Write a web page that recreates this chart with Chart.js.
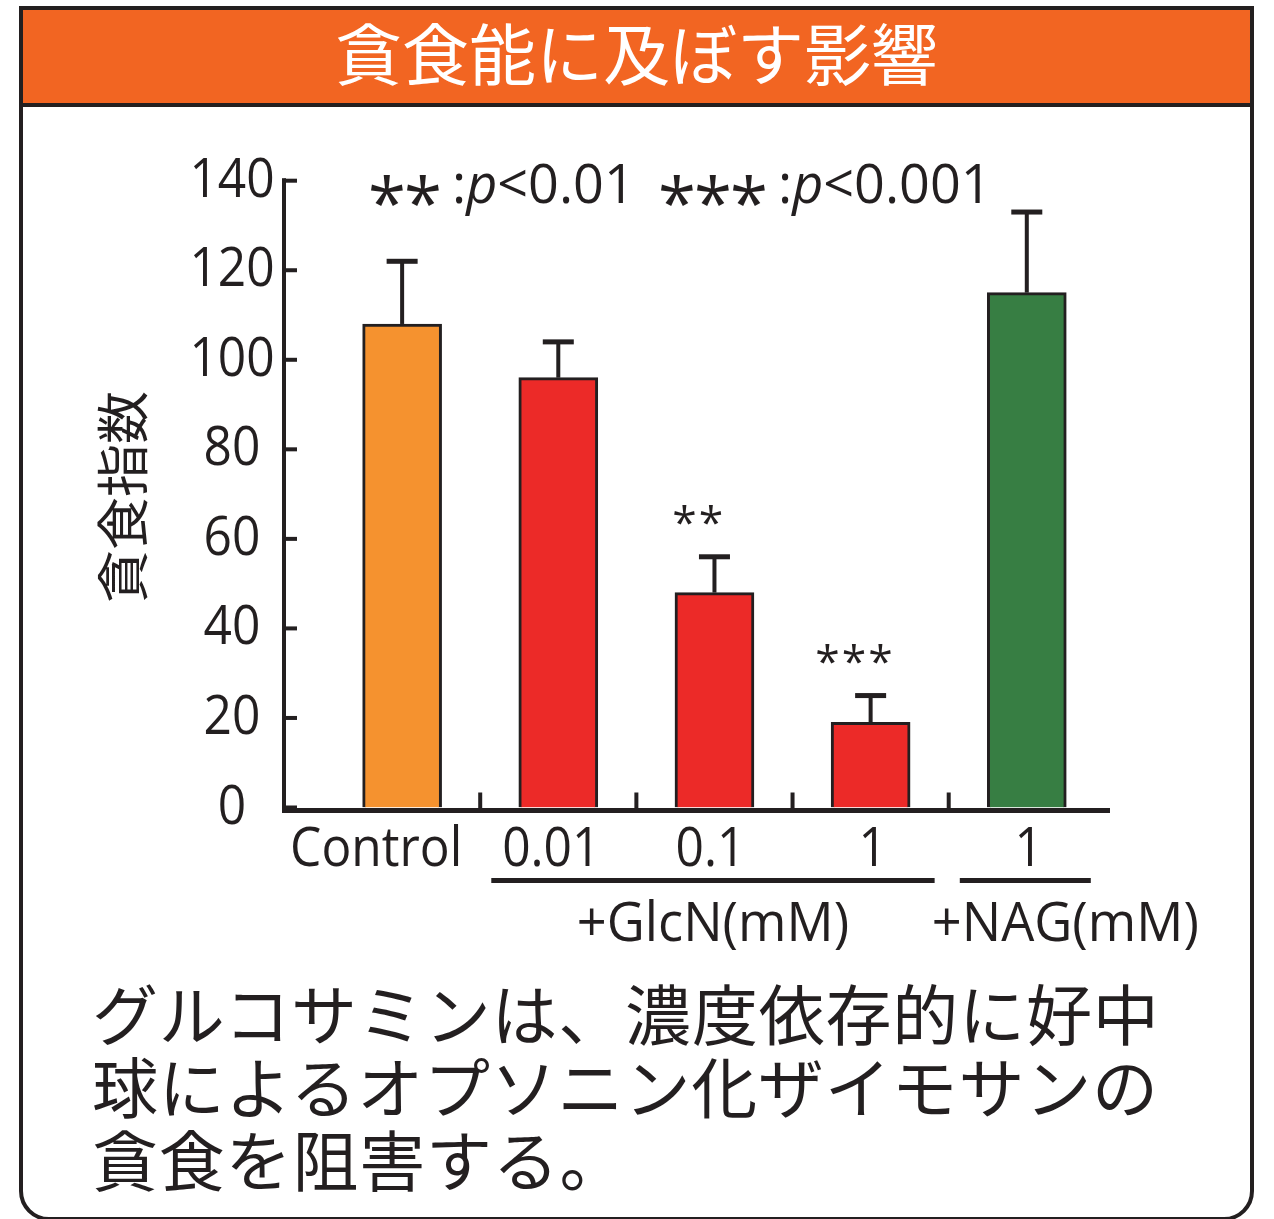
<!DOCTYPE html>
<html lang="ja">
<head>
<meta charset="utf-8">
<title>貪食能に及ぼす影響</title>
<script src="https://cdn.jsdelivr.net/npm/chart.js@4.4.1/dist/chart.umd.min.js"></script>
<style>
  html, body { margin: 0; padding: 0; background: #fff; }
  body { width: 1274px; height: 1219px; position: relative; overflow: hidden;
         font-family: "Noto Sans CJK JP", "Noto Sans CJK SC", sans-serif; color: #231f20; }
  #panel { position: absolute; left: 19px; top: 6px; width: 1235px; height: 1215px;
           box-sizing: border-box; border: 4px solid #231f20; border-radius: 0 0 30px 30px; }
  #head { position: absolute; left: 0; top: 0; right: 0; height: 97px; box-sizing: border-box;
          background: #F26522; border-bottom: 4px solid #231f20; color: #fff;
          font-size: 67px; line-height: 82px; text-align: center; }
  #note { position: absolute; left: 92px; top: 975px; font-size: 66px; line-height: 73px;
          letter-spacing: 0.8px; white-space: nowrap; }
  #chart { position: absolute; left: 0; top: 0; z-index: 2; }
</style>
</head>
<body>
<div id="panel"><div id="head">貪食能に及ぼす影響</div></div>
<div id="note">グルコサミンは、濃度依存的に好中<br>球によるオプソニン化ザイモサンの<br>貪食を阻害する。</div>
<canvas id="chart" width="1274" height="1219"></canvas>
<script>
// ---- data ----
const categories = ['Control', '0.01', '0.1', '1', '1'];
const means = [108, 96, 48, 19, 115];
const errors = [14, 8, 8, 6, 18];
const barColors = ['#F5922F', '#EC2A28', '#EC2A28', '#EC2A28', '#377E43'];
const significance = ['', '', '**', '***', ''];
const yTicks = [0, 20, 40, 60, 80, 100, 120, 140];
const yTitle = '貪食指数';
const groupLabels = ['+GlcN(mM)', '+NAG(mM)'];
const groupFirst = [1, 4];
const groupLast = [3, 4];
const legendParts = [['**', ':', 'p', '<0.01'], ['***', ':', 'p', '<0.001']];

// ---- look ----
const INK = '#231f20';
const LATIN = '"Open Sans", "Noto Sans", sans-serif';
const SX = 0.92;                 // narrow the Latin face a little
const labelNudge = [-26, -7, -4, 2, 2];
const groupLabelShift = [0, 40];

function textAt(ctx, str, x, y, o) {
  ctx.save();
  ctx.font = (o.italic ? 'italic ' : '') + (o.size) + 'px ' + (o.family || LATIN);
  ctx.fillStyle = o.color || INK;
  ctx.textBaseline = o.baseline || 'alphabetic';
  ctx.textAlign = 'left';
  const sx = o.sx == null ? SX : o.sx;
  const w = ctx.measureText(str).width * sx;
  let left = x;
  if (o.align === 'center') left = x - w / 2;
  else if (o.align === 'right') left = x - w;
  ctx.translate(left, y);
  ctx.scale(sx, 1);
  ctx.fillText(str, 0, 0);
  ctx.restore();
  return w;
}

// one asterisk whose ink is centred on (cx, cy) with the given ink height
function star(ctx, cx, cy, inkH) {
  ctx.save();
  ctx.font = '100px ' + LATIN;
  let m = ctx.measureText('*');
  const h = m.actualBoundingBoxAscent + m.actualBoundingBoxDescent;
  const size = 100 * inkH / h;
  ctx.font = size + 'px ' + LATIN;
  m = ctx.measureText('*');
  const x = cx - (m.actualBoundingBoxRight - m.actualBoundingBoxLeft) / 2;
  const y = cy + (m.actualBoundingBoxAscent - m.actualBoundingBoxDescent) / 2;
  ctx.fillStyle = INK;
  ctx.textAlign = 'left';
  ctx.textBaseline = 'alphabetic';
  ctx.fillText('*', x, y);
  ctx.restore();
}

function stars(ctx, n, cx, cy, inkH, gap) {
  const start = cx - gap * (n - 1) / 2;
  for (let i = 0; i < n; i++) star(ctx, start + i * gap, cy, inkH);
}

const decorations = {
  id: 'decorations',
  afterDatasetsDraw(chart) {
    const ctx = chart.ctx;
    const xs = chart.scales.x, ys = chart.scales.y;
    const y0 = ys.getPixelForValue(0);
    const top = ys.getPixelForValue(140);
    const axisX = chart.chartArea.left - 1;

    // error bars (upper half)
    ctx.save();
    ctx.fillStyle = INK;
    means.forEach((m, i) => {
      const cx = xs.getPixelForValue(i);
      const yb = ys.getPixelForValue(m);
      const yc = ys.getPixelForValue(m + errors[i]);
      ctx.fillRect(cx - 2, yc, 4, yb - yc);
      ctx.fillRect(cx - 15.5, yc - 2.5, 31, 5);
    });

    // axes
    ctx.fillRect(axisX - 2, top - 2.5, 4, y0 - top + 8);
    ctx.fillRect(axisX - 2, y0 + 0.5, chart.chartArea.right - axisX + 4, 5);
    yTicks.forEach(v => {
      const y = ys.getPixelForValue(v);
      ctx.fillRect(axisX, y - 2, 13, 4);
    });
    for (let i = 0; i < categories.length - 1; i++) {
      const x = xs.getPixelForValue(i + 0.5);
      ctx.fillRect(x - 2, y0 - 15, 4, 16);
    }
    ctx.restore();

    // y tick labels
    yTicks.forEach(v => {
      textAt(ctx, String(v), 232, ys.getPixelForValue(v) + 16, { size: 54, align: 'center' });
    });

    // y title, reading upward
    ctx.save();
    ctx.translate(123, 497);
    ctx.rotate(-Math.PI / 2);
    ctx.font = '53px "Noto Sans CJK JP", sans-serif';
    ctx.fillStyle = INK;
    ctx.textAlign = 'center';
    ctx.textBaseline = 'middle';
    ctx.fillText(yTitle, 0, 0);
    ctx.restore();

    // category labels
    categories.forEach((c, i) => {
      textAt(ctx, c, xs.getPixelForValue(i) + labelNudge[i], 866, { size: 54, align: 'center' });
    });

    // group brackets and names
    ctx.save();
    ctx.fillStyle = INK;
    groupLabels.forEach((g, k) => {
      const a = xs.getPixelForValue(groupFirst[k]) - 67;
      const b = xs.getPixelForValue(groupLast[k]) + 64;
      ctx.fillRect(a, 878, b - a, 5);
      textAt(ctx, g, (a + b) / 2 + groupLabelShift[k], 941, { size: 54, align: 'center', sx: 0.97 });
    });
    ctx.restore();

    // significance marks over bars
    significance.forEach((s, i) => {
      if (!s) return;
      const cap = ys.getPixelForValue(means[i] + errors[i]);
      stars(ctx, s.length, xs.getPixelForValue(i) - 17, cap - 42, 20, 26.5);
    });

    // key for the marks
    const keyStart = [370, 660];
    legendParts.forEach((p, k) => {
      const n = p[0].length;
      const gap = 36;
      const x0 = keyStart[k] + 17;
      stars(ctx, n, x0 + gap * (n - 1) / 2, 190, 31, gap);
      let x = x0 + gap * (n - 1) + 17 + 12;
      x += textAt(ctx, p[1], x, 203, { size: 55, sx: 0.98 });
      x += textAt(ctx, p[2], x, 203, { size: 55, italic: true, sx: 0.98 });
      textAt(ctx, p[3], x, 203, { size: 55, sx: 0.98 });
    });
  }
};

new Chart(document.getElementById('chart'), {
  type: 'bar',
  data: {
    datasets: [{
      data: means.map((v, i) => ({ x: i, y: v })),
      backgroundColor: barColors,
      borderColor: INK,
      borderWidth: 3,
      borderSkipped: 'start',
      barThickness: 79
    }]
  },
  options: {
    responsive: false,
    animation: false,
    devicePixelRatio: 1,
    layout: { padding: { left: 285, right: 166, top: 180.7, bottom: 411.5 } },
    plugins: { legend: { display: false }, tooltip: { enabled: false }, title: { display: false } },
    scales: {
      x: { type: 'linear', min: -0.75, max: 4.52, offset: false, display: false },
      y: { min: 0, max: 140, display: false }
    }
  },
  plugins: [decorations]
});
</script>
</body>
</html>
